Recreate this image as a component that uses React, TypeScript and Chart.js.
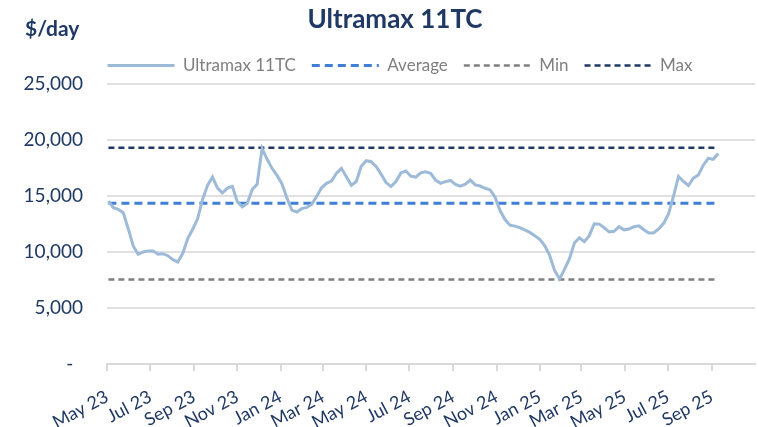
import React, { useEffect, useRef } from 'react';
import { Chart, registerables } from 'chart.js';

Chart.register(...registerables);

const TITLE = 'Ultramax 11TC';
const UNIT_LABEL = '$/day';
const SERIES_LABEL = 'Ultramax 11TC';
const AVERAGE_LABEL = 'Average';
const MIN_LABEL = 'Min';
const MAX_LABEL = 'Max';

// weekly assessments, first one on this date
const START_DATE = '2023-05-03';
const WEEKLY_RATES = [
  14550, 13950, 13800, 13500, 12080, 10540, 9790, 10000, 10100, 10100,
  9800, 9850, 9670, 9310, 9100, 9880, 11200, 12030, 12990, 14700,
  15950, 16700, 15700, 15270, 15700, 15860, 14500, 14040, 14320, 15580,
  16050, 19250, 18300, 17470, 16840, 16100, 14830, 13740, 13570, 13870,
  13980, 14250, 14960, 15730, 16130, 16340, 17030, 17470, 16710, 15950,
  16290, 17660, 18150, 18060, 17630, 16950, 16200, 15840, 16290, 17060,
  17230, 16770, 16690, 17070, 17170, 17030, 16420, 16130, 16280, 16390,
  16030, 15880, 16050, 16420, 15990, 15890, 15690, 15540, 14900, 13700,
  12900, 12400, 12310, 12170, 11980, 11750, 11460, 11130, 10570, 9700,
  8350, 7600, 8450, 9400, 10800, 11270, 10920, 11460, 12520, 12490,
  12180, 11800, 11850, 12260, 11980, 12050, 12260, 12340, 11990, 11700,
  11720, 12060, 12560, 13420, 15000, 16750, 16300, 15930, 16590, 16870,
  17750, 18360, 18280, 18800,
];

const AVERAGE_RATE = 14350;
const MIN_RATE = 7550;
const MAX_RATE = 19300;

const X_TICK_LABELS = [
  'May 23', 'Jul 23', 'Sep 23', 'Nov 23', 'Jan 24', 'Mar 24', 'May 24', 'Jul 24',
  'Sep 24', 'Nov 24', 'Jan 25', 'Mar 25', 'May 25', 'Jul 25', 'Sep 25',
];
const X_AXIS_END = 'Nov 25';
const Y_TICKS = [0, 5000, 10000, 15000, 20000, 25000];

const NAVY = '#1F3864';
const FONT = 'Lato, "Open Sans", sans-serif';
const MONTHS = ['Jan', 'Feb', 'Mar', 'Apr', 'May', 'Jun', 'Jul', 'Aug', 'Sep', 'Oct', 'Nov', 'Dec'];
const DAY_MS = 86400000;

function labelTime(label: string): number {
  const [m, y] = label.split(' ');
  return Date.UTC(2000 + Number(y), MONTHS.indexOf(m), 1);
}
const ORIGIN = labelTime(X_TICK_LABELS[0]);
const toDay = (t: number) => Math.round((t - ORIGIN) / DAY_MS);

const headerPlugin = {
  id: 'header',
  afterLayout(chart: any) {
    // centre the legend row like the original
    if (chart.legend) {
      chart.legend.left += 12.5;
      chart.legend.right += 12.5;
    }
  },
  afterDraw(chart: any) {
    const ctx = chart.ctx;
    ctx.save();
    ctx.fillStyle = NAVY;
    ctx.textBaseline = 'middle';
    ctx.textAlign = 'center';
    ctx.font = `bold 26px ${FONT}`;
    ctx.fillText(TITLE, 395, 20);
    ctx.textAlign = 'left';
    ctx.font = `bold 21px ${FONT}`;
    ctx.fillText(UNIT_LABEL, 25, 29);
    ctx.restore();
  },
};

export default function App() {
  const ref = useRef<HTMLCanvasElement>(null);

  useEffect(() => {
    if (!ref.current) return;
    const startDay = toDay(Date.parse(START_DATE));
    const points = WEEKLY_RATES.map((v, i) => ({ x: startDay + 7 * i, y: v }));
    const xFirst = points[0].x;
    const xLast = points[points.length - 1].x;
    const xTickValues = X_TICK_LABELS.map((l) => toDay(labelTime(l)));
    const xMax = toDay(labelTime(X_AXIS_END));
    const flat = (v: number) => [{ x: xFirst, y: v }, { x: xLast, y: v }];

    const chart = new Chart(ref.current, {
      type: 'line',
      data: {
        datasets: [
          { label: SERIES_LABEL, data: points, borderColor: '#9DBAD8', backgroundColor: '#9DBAD8', borderWidth: 3, pointRadius: 0, borderDash: [] },
          { label: AVERAGE_LABEL, data: flat(AVERAGE_RATE), borderColor: '#3F7FD6', backgroundColor: '#3F7FD6', borderWidth: 3, borderDash: [8, 5], pointRadius: 0 },
          { label: MIN_LABEL, data: flat(MIN_RATE), borderColor: '#808080', backgroundColor: '#808080', borderWidth: 2.5, borderDash: [6, 4], pointRadius: 0 },
          { label: MAX_LABEL, data: flat(MAX_RATE), borderColor: NAVY, backgroundColor: NAVY, borderWidth: 2.5, borderDash: [6, 4], pointRadius: 0 },
        ],
      },
      options: {
        animation: false,
        responsive: false,
        layout: { padding: { top: 41, left: 20, right: 3, bottom: 0 } },
        plugins: {
          title: { display: false },
          tooltip: { enabled: false },
          legend: {
            display: true,
            position: 'top',
            labels: {
              usePointStyle: true,
              pointStyleWidth: 67,
              padding: 16,
              color: '#7F7F7F',
              font: { family: FONT, size: 17 },
              generateLabels: (c: any) =>
                c.data.datasets.map((ds: any, i: number) => ({
                  text: ds.label,
                  fillStyle: ds.borderColor,
                  strokeStyle: ds.borderColor,
                  lineWidth: ds.borderWidth,
                  lineDash: ds.borderDash || [],
                  pointStyle: 'line',
                  hidden: false,
                  datasetIndex: i,
                  fontColor: '#7F7F7F',
                })),
            },
          },
        },
        scales: {
          x: {
            type: 'linear',
            min: 0,
            max: xMax,
            afterBuildTicks: (s: any) => {
              s.ticks = xTickValues.map((v) => ({ value: v }));
            },
            afterFit: (s: any) => {
              s.height = 63;
            },
            ticks: {
              autoSkip: false,
              minRotation: 28,
              maxRotation: 28,
              padding: 15,
              color: NAVY,
              font: { family: FONT, size: 18 },
              callback: (v: any) => {
                const i = xTickValues.indexOf(Number(v));
                return i >= 0 ? X_TICK_LABELS[i] : '';
              },
            },
            grid: { drawOnChartArea: false, drawTicks: true, tickLength: 7, color: '#D9D9D9', lineWidth: 2 },
            border: { display: true, color: '#D9D9D9', width: 2 },
          },
          y: {
            min: 0,
            max: 25000,
            afterBuildTicks: (s: any) => {
              s.ticks = Y_TICKS.map((v) => ({ value: v }));
            },
            afterFit: (s: any) => {
              s.width = 87;
            },
            ticks: {
              padding: 24,
              color: NAVY,
              font: { family: FONT, size: 19 },
              callback: (v: any) => (Number(v) === 0 ? '-  ' : Number(v).toLocaleString('en-US')),
            },
            grid: { color: '#E0E0E0', lineWidth: 2, drawTicks: false },
            border: { display: false },
          },
        },
      },
      plugins: [headerPlugin],
    } as any);
    return () => chart.destroy();
  }, []);

  return (
    <div style={{ position: 'absolute', left: 0, top: 0, width: 758, height: 427, background: '#fff' }}>
      <canvas ref={ref} width={758} height={427} />
    </div>
  );
}
